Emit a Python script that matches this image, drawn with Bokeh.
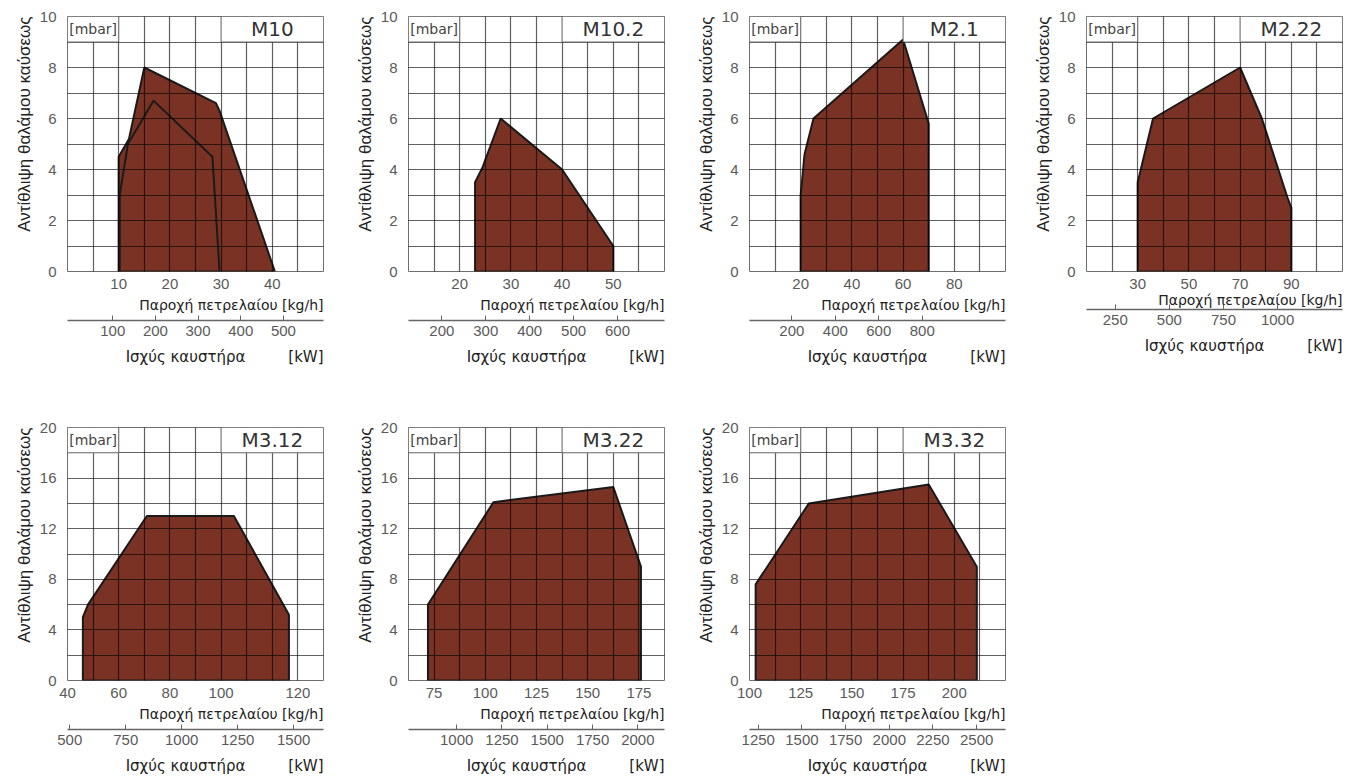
import numpy as np
from bokeh.plotting import figure
from bokeh.models import Range1d, LinearAxis, FixedTicker, BoxAnnotation, Label, Title
from bokeh.layouts import row, column
from bokeh.embed import file_html
from bokeh.resources import INLINE

# ---------------- data ----------------
models = ["M10", "M10.2", "M2.1", "M2.22", "M3.12", "M3.22", "M3.32"]

m10_flow = [10, 10, 12, 15, 29, 29.7, 40.5]
m10_pressure = [0, 4.5, 5.2, 8, 6.6, 6.3, 0]
m10_inner_flow = [10.2, 10.2, 11.8, 16.8, 28.3, 29.7]
m10_inner_pressure = [0, 3, 5, 6.7, 4.5, 0]
m102_flow = [23, 23, 24.5, 28, 40, 50, 50]
m102_pressure = [0, 3.5, 4.1, 6, 4, 1, 0]
m21_flow = [20, 20, 21.5, 25, 60, 70, 70]
m21_pressure = [0, 3, 4.6, 6, 9.1, 5.8, 0]
m222_flow = [30, 30, 36, 70, 78.5, 88.5, 90, 90]
m222_pressure = [0, 3.5, 6, 8, 6, 2.9, 2.5, 0]
m312_flow = [46, 46, 48, 71, 105, 126.5, 126.5]
m312_pressure = [0, 5, 6, 13, 13, 5.2, 0]
m322_flow = [72, 72, 104, 162.5, 176, 176]
m322_pressure = [0, 6, 14.1, 15.3, 9, 0]
m332_flow = [103, 103, 129, 187.5, 211, 211]
m332_pressure = [0, 7.6, 14, 15.5, 9, 0]

area_flow = [m10_flow, m102_flow, m21_flow, m222_flow, m312_flow, m322_flow, m332_flow]
area_pressure = [m10_pressure, m102_pressure, m21_pressure, m222_pressure,
                 m312_pressure, m322_pressure, m332_pressure]

flow_range = [(0, 50), (10, 60), (0, 100), (10, 110), (40, 140), (62.5, 187.5), (100, 225)]
flow_ticks = [[10, 20, 30, 40], [20, 30, 40, 50], [20, 40, 60, 80], [30, 50, 70, 90],
              [40, 60, 80, 100, 130], [75, 100, 125, 150, 175], [100, 125, 150, 175, 200]]
flow_labels = [["10", "20", "30", "40"], ["20", "30", "40", "50"], ["20", "40", "60", "80"],
               ["30", "50", "70", "90"], ["40", "60", "80", "100", "120"],
               ["75", "100", "125", "150", "175"], ["100", "125", "150", "175", "200"]]

power_range = [(-6, 594), (124, 707), (5, 1183), (117, 1300), (490, 1633), (734, 2147), (1200, 2665)]
power_ticks = [[100, 200, 300, 400, 500], [200, 300, 400, 500, 600], [200, 400, 600, 800],
               [250, 500, 750, 1000], [500, 750, 1000, 1250, 1500],
               [1000, 1250, 1500, 1750, 2000], [1250, 1500, 1750, 2000, 2250, 2500]]

pressure_max = [10, 10, 10, 10, 20, 20, 20]
pressure_ticks_small = [0, 2, 4, 6, 8, 10]
pressure_ticks_large = [0, 4, 8, 12, 16, 20]

y_title = "Αντίθλιψη θαλάμου καύσεως"
flow_title = "Παροχή πετρελαίου [kg/h]"
power_title = "Ισχύς καυστήρα" + "\u00a0" * 9 + "[kW]"
unit_text = "[mbar]"

# ---------------- style ----------------
FILL = "#7a3224"
EDGE = "#1a1a1a"
TICK_TXT = "#5a5a5a"
TXT = "#222222"
SANS = "Liberation Sans"
WIDE = "DejaVu Sans"
RIGHT_PAD = [18, 18, 14, 2, 18, 18, 14]


def panel(i):
    top_row = i < 4
    x0, x1 = flow_range[i]
    k0, k1 = power_range[i]
    ymax = pressure_max[i]
    compact = models[i] == "M2.22"
    dx = (x1 - x0) / 10.0
    dy = ymax / 10.0

    p = figure(frame_width=256, frame_height=255 if top_row else 253,
               x_range=Range1d(x0, x1), y_range=Range1d(0, ymax),
               toolbar_location=None, output_backend="svg",
               min_border_left=67, min_border_right=RIGHT_PAD[i],
               min_border_top=16 if top_row else 52, min_border_bottom=103)
    p.background_fill_color = "white"
    p.border_fill_color = "white"
    p.outline_line_color = "#6e6e6e"
    p.outline_line_width = 1

    # grid on top of the area
    p.xgrid[0].ticker = FixedTicker(ticks=[float(v) for v in np.linspace(x0, x1, 11)])
    p.ygrid[0].ticker = FixedTicker(ticks=[float(v) for v in np.linspace(0, ymax, 11)])
    for g in (p.xgrid[0], p.ygrid[0]):
        g.grid_line_color = "black"
        g.grid_line_alpha = 0.62
        g.grid_line_width = 1.2
        g.level = "guide"

    # working field
    p.patch(area_flow[i], area_pressure[i], fill_color=FILL, fill_alpha=1.0,
            line_color=EDGE, line_width=2)
    if i == 0:
        p.line(m10_inner_flow, m10_inner_pressure, line_color=EDGE, line_width=2)

    # header boxes
    p.add_layout(BoxAnnotation(left=x0, right=x0 + 2 * dx, bottom=ymax - dy, top=ymax,
                               fill_color="white", fill_alpha=1.0,
                               line_color="#6e6e6e", line_width=1, line_alpha=1.0))
    p.add_layout(BoxAnnotation(left=x0 + 6 * dx, right=x1, bottom=ymax - dy, top=ymax,
                               fill_color="white", fill_alpha=1.0,
                               line_color="#6e6e6e", line_width=1, line_alpha=1.0))
    p.add_layout(Label(x=x0 + dx, y=ymax - dy / 2, text=unit_text, text_align="center",
                       text_baseline="middle", text_font=WIDE, text_font_size="14px",
                       text_color="#444444"))
    p.add_layout(Label(x=x0 + 8 * dx, y=ymax - dy / 2, text=models[i], text_align="center",
                       text_baseline="middle", text_font=WIDE, text_font_size="20px",
                       text_color="#333333"))

    # y axis
    ya = p.yaxis[0]
    ya.ticker = FixedTicker(ticks=pressure_ticks_small if top_row else pressure_ticks_large)
    ya.axis_line_color = None
    ya.major_tick_line_color = None
    ya.minor_tick_line_color = None
    ya.major_label_standoff = 5
    ya.major_label_text_font = SANS
    ya.major_label_text_font_size = "15px"
    ya.major_label_text_color = TICK_TXT
    p.add_layout(Title(text=y_title, align="right", vertical_align="middle", standoff=4,
                       text_font=SANS, text_font_size="17px", text_font_style="normal",
                       text_color=TXT), "left")

    # flow axis
    xa = p.xaxis[0]
    xa.ticker = FixedTicker(ticks=flow_ticks[i])
    overrides = {float(t): s for t, s in zip(flow_ticks[i], flow_labels[i]) if str(t) != s}
    if overrides:
        xa.major_label_overrides = overrides
    xa.axis_line_color = None
    xa.major_tick_line_color = None
    xa.minor_tick_line_color = None
    xa.major_label_standoff = 1
    xa.major_label_text_font = SANS
    xa.major_label_text_font_size = "15px"
    xa.major_label_text_color = TICK_TXT

    p.add_layout(Title(text=flow_title, align="right", vertical_align="top",
                       standoff=0 if compact else 11, text_font=WIDE,
                       text_font_size="14px", text_font_style="normal", text_color=TXT), "below")

    # power axis
    p.extra_x_ranges = {"kw": Range1d(k0, k1)}
    ka = LinearAxis(x_range_name="kw", ticker=FixedTicker(ticks=power_ticks[i]))
    ka.axis_line_color = "#666666"
    ka.axis_line_width = 1.5
    ka.major_tick_in = 5
    ka.major_tick_out = 0
    ka.major_tick_line_color = "#666666"
    ka.minor_tick_line_color = None
    ka.major_label_standoff = 5
    ka.major_label_text_font = SANS
    ka.major_label_text_font_size = "15px"
    ka.major_label_text_color = TICK_TXT
    p.add_layout(ka, "below")

    p.add_layout(Title(text=power_title, align="right", vertical_align="middle", standoff=17,
                       text_font=WIDE, text_font_size="15px", text_font_style="normal",
                       text_color=TXT), "below")
    return p


figs = [panel(i) for i in range(7)]
layout = column(row(*figs[:4]), row(*figs[4:]))

open("out.html", "w").write(file_html(layout, INLINE))
